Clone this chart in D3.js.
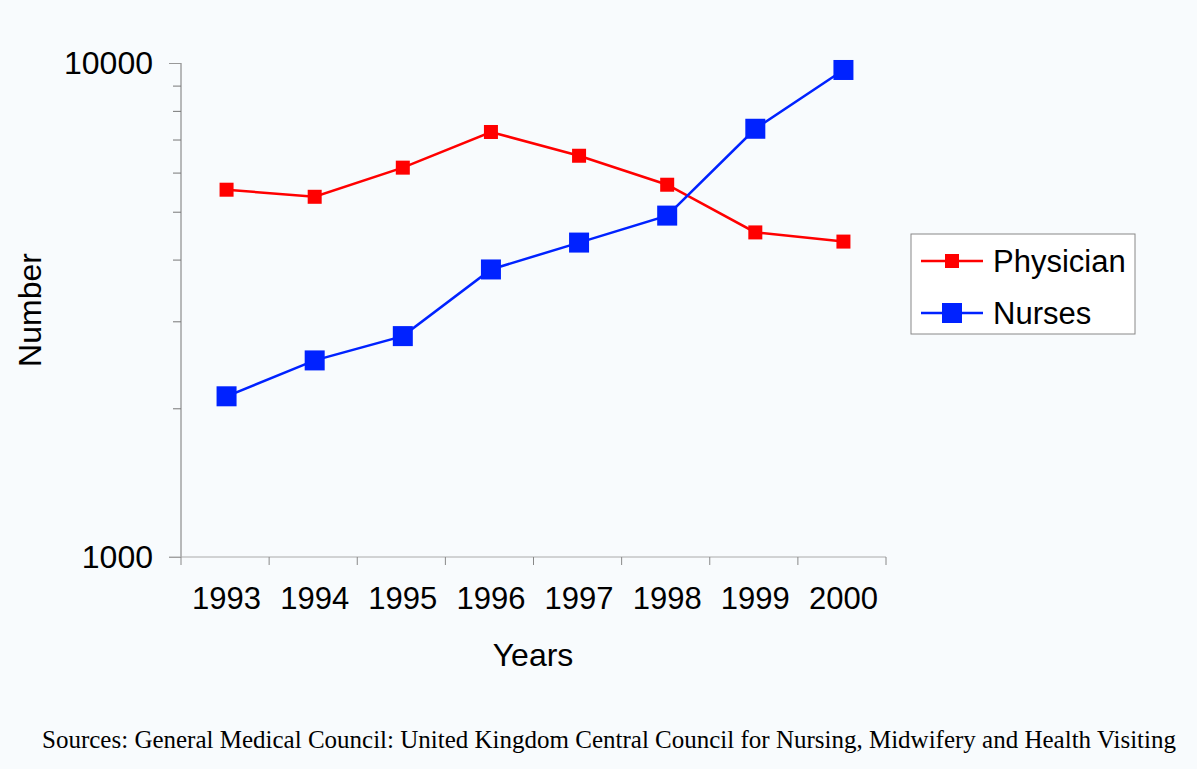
<!DOCTYPE html>
<html>
<head>
<meta charset="utf-8">
<script src="https://cdn.jsdelivr.net/npm/d3@7"></script>
<style>
  body { margin: 0; background: #f8fbfd; }
  svg { display: block; }
  text { font-family: Arial, "Liberation Sans", sans-serif; fill: #000; }
</style>
</head>
<body>
<svg id="chart" width="1197" height="769"></svg>
<script>
const years = ['1993', '1994', '1995', '1996', '1997', '1998', '1999', '2000'];
const physician = [5540, 5360, 6140, 7250, 6490, 5670, 4540, 4350];
const nurses = [2115, 2500, 2800, 3820, 4330, 4910, 7360, 9680];
const yTicks = [1000, 10000];
const yMinorTicks = [2000, 3000, 4000, 5000, 6000, 7000, 8000, 9000];

const margin = { left: 181, top: 63, right: 311, bottom: 212 };
const width = 1197 - margin.left - margin.right;
const height = 769 - margin.top - margin.bottom;

const svg = d3.select('#chart');
svg.append('rect').attr('width', 1197).attr('height', 769).attr('fill', '#f8fbfd');

const g = svg.append('g')
    .attr('transform', 'translate(' + margin.left + ',' + margin.top + ')');

const x = d3.scaleBand()
    .domain(years)
    .range([0, width]);

const y = d3.scaleLog()
    .domain([1000, 10000])
    .range([height, 0]);

// y axis: minor ticks
g.append('g')
    .call(d3.axisLeft(y).tickValues(yMinorTicks).tickSize(8).tickFormat(''))
    .call(a => a.select('.domain').remove())
    .selectAll('line').attr('stroke', '#777');

// y axis: major ticks + labels
const yAxis = g.append('g')
    .call(d3.axisLeft(y).tickValues(yTicks).tickSize(12).tickPadding(16).tickFormat(d3.format('d')));
yAxis.select('.domain').attr('stroke', '#777').attr('d', 'M0,0V' + height);
yAxis.selectAll('line').attr('stroke', '#999');
yAxis.selectAll('text').style('font-size', '32px');

// x axis
const xAxis = g.append('g')
    .attr('transform', 'translate(0,' + height + ')')
    .call(d3.axisBottom(x).tickSize(0).tickPadding(30));
xAxis.select('.domain').attr('stroke', '#aaa').attr('d', 'M-12,0H' + width);
xAxis.selectAll('text').style('font-size', '31px').attr('dx', 1.5);

// x ticks at band edges
g.append('g')
    .selectAll('line')
    .data(years.concat(['end']))
    .enter().append('line')
    .attr('x1', (d, i) => i * x.step())
    .attr('x2', (d, i) => i * x.step())
    .attr('y1', height)
    .attr('y2', height + 8)
    .attr('stroke', '#888');

const cx = d => x(d) + x.bandwidth() / 2 + 1.5;

const line = d3.line()
    .x((d, i) => cx(years[i]))
    .y(d => y(d));

const series = [
    { name: 'Physician', values: physician, color: '#ff0000', size: 14 },
    { name: 'Nurses', values: nurses, color: '#0022ff', size: 20 }
];

series.forEach(s => {
    g.append('path')
        .attr('d', line(s.values))
        .attr('fill', 'none')
        .attr('stroke', s.color)
        .attr('stroke-width', 2.5);
    g.selectAll(null).data(s.values)
        .enter().append('rect')
        .attr('x', (d, i) => cx(years[i]) - s.size / 2)
        .attr('y', d => y(d) - s.size / 2)
        .attr('width', s.size)
        .attr('height', s.size)
        .attr('fill', s.color);
});

// axis titles
svg.append('text')
    .attr('x', 533)
    .attr('y', 666)
    .attr('text-anchor', 'middle')
    .style('font-size', '32px')
    .text('Years');

svg.append('text')
    .attr('transform', 'translate(41,310) rotate(-90)')
    .attr('text-anchor', 'middle')
    .style('font-size', '32px')
    .text('Number');

// legend
const legend = svg.append('g').attr('transform', 'translate(911,234)');
legend.append('rect')
    .attr('width', 224)
    .attr('height', 100)
    .attr('fill', '#fff')
    .attr('stroke', '#888')
    .attr('stroke-width', 1);

series.forEach((s, i) => {
    const ly = 27 + i * 52;
    legend.append('line')
        .attr('x1', 10).attr('x2', 72)
        .attr('y1', ly).attr('y2', ly)
        .attr('stroke', s.color).attr('stroke-width', 2.5);
    legend.append('rect')
        .attr('x', 41 - s.size / 2).attr('y', ly - s.size / 2)
        .attr('width', s.size).attr('height', s.size)
        .attr('fill', s.color);
    legend.append('text')
        .attr('x', 82).attr('y', ly)
        .attr('dy', '0.35em')
        .style('font-size', '31px')
        .text(s.name);
});

// source note
svg.append('text')
    .attr('x', 609)
    .attr('y', 748)
    .attr('text-anchor', 'middle')
    .style('font-family', '"Times New Roman", "Liberation Serif", serif')
    .style('font-size', '25px')
    .text('Sources: General Medical Council: United Kingdom Central Council for Nursing, Midwifery and Health Visiting');
</script>
</body>
</html>
